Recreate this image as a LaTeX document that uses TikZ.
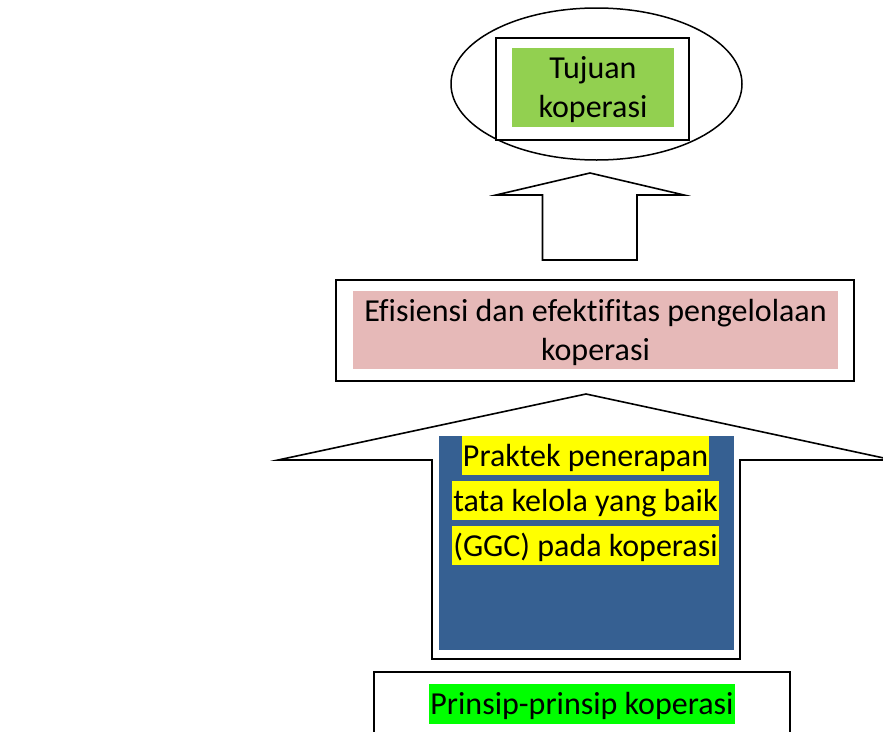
\documentclass[tikz,border=0pt]{standalone}
\usepackage{fontspec}
\setmainfont{Carlito}[Ligatures=NoCommon]
\usetikzlibrary{shapes.geometric}
\definecolor{tgreen}{HTML}{92D050}
\definecolor{tpink}{HTML}{E6B9B8}
\definecolor{tblue}{HTML}{366092}
\definecolor{hlyellow}{HTML}{FFFF00}
\definecolor{hlgreen}{HTML}{00FF00}
\begin{document}
\begin{tikzpicture}[x=1pt,y=-1pt,
  bigtext/.style={font=\fontsize{32}{39}\selectfont, align=center},
  frame/.style={draw=black, line width=1.6pt, fill=white, inner sep=0pt},
  fillbox/.style={inner sep=0pt, bigtext},
  hline/.style={inner xsep=1pt, inner ysep=0pt, text height=30.5pt, text depth=8.6pt, font=\fontsize{32}{39}\selectfont},
  blockarrow/.style={draw=black, line width=1.6pt, fill=white, line join=miter}
]
\useasboundingbox (0,0) rectangle (883,731);
\clip (0,0) rectangle (883,731);

% top: ellipse with goal
\node[draw=black, line width=1.5pt, ellipse, inner sep=0pt, minimum width=291pt, minimum height=152pt] (ell) at (596.5,84) {};
\node[frame, minimum width=193pt, minimum height=102pt] (tujframe) at (592.5,89) {};
\node[fill=tgreen, inner sep=0pt, minimum width=162pt, minimum height=79pt] (tuj) at (593,87.5) {};
\node[fillbox] (tujtext) at (593,89.5) {Tujuan\\koperasi};

% small arrow
\draw[blockarrow] (590,173) -- (684,195) -- (637,195) -- (637,260) -- (542.5,260) -- (542.5,195) -- (496,195) -- cycle;

% efficiency box
\node[frame, minimum width=518pt, minimum height=101pt] (effframe) at (595,330.5) {};
\node[fill=tpink, inner sep=0pt, minimum width=485pt, minimum height=78pt] (eff) at (595.5,330) {};
\node[fillbox] (efftext) at (595.5,332.5) {Efisiensi dan efektifitas pengelolaan\\koperasi};

% big arrow
\draw[blockarrow] (586,394) -- (893,460) -- (740,460) -- (740,659) -- (432,659) -- (432,460) -- (278,460) -- cycle;
\node[fill=tblue, inner sep=0pt, minimum width=295pt, minimum height=214pt] (blue) at (586.5,543) {};
\node[hline, fill=hlyellow] (p1) at (585.5,455.5) {Praktek penerapan};
\node[hline, fill=hlyellow] (p2) at (585.5,500.5) {tata kelola yang baik};
\node[hline, fill=hlyellow] (p3) at (585.5,545.5) {(GGC) pada koperasi};

% principles box
\node[frame, minimum width=416pt, minimum height=100pt] (prinframe) at (582,722) {};
\node[hline, fill=hlgreen] (prin) at (582,704) {Prinsip-prinsip koperasi};
\end{tikzpicture}
\end{document}
